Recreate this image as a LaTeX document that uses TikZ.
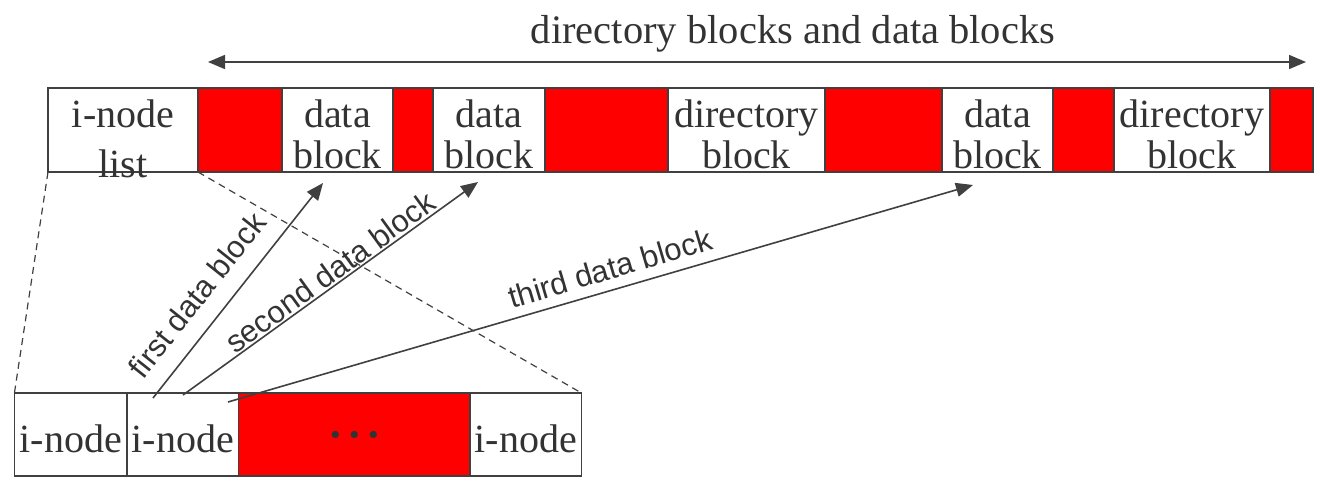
\documentclass[tikz,border=0pt]{standalone}
\usepackage{fontspec}
\setmainfont{Liberation Serif}
\setsansfont{Liberation Sans}
\usetikzlibrary{arrows.meta,calc}
\definecolor{ink}{HTML}{333333}
\definecolor{edge}{HTML}{404040}
\begin{document}
\begin{tikzpicture}[x=1pt,y=-1pt,
  cell/.style={draw=edge, line width=1.6pt, minimum height=84pt, inner sep=0pt, outer sep=0pt},
  wcell/.style={cell, fill=white},
  rcell/.style={cell, fill=red},
  serif/.style={font=\fontsize{40}{41}\selectfont, text=ink, align=center, inner sep=0pt},
  sans/.style={font=\sffamily\fontsize{31}{33}\selectfont, text=ink, inner sep=0pt},
  ptr/.style={draw=edge, line width=1.6pt, -{Triangle[length=17pt,width=14pt]}},
  span/.style={draw=edge, line width=1.6pt, {Triangle[length=17pt,width=14pt]}-{Triangle[length=17pt,width=14pt]}},
  zoomline/.style={draw=edge, line width=1.2pt, dash pattern=on 7pt off 5pt}]
\useasboundingbox (0,0) rectangle (1333,487);

% top bar
\node[wcell, minimum width=150pt] (inl) at (123,130) {};
\node[rcell, minimum width=84pt]  (r1)  at (240,130) {};
\node[wcell, minimum width=111pt] (d1)  at (337.5,130) {};
\node[rcell, minimum width=40pt]  (r2)  at (413,130) {};
\node[wcell, minimum width=112pt] (d2)  at (489,130) {};
\node[rcell, minimum width=123pt] (r3)  at (606.5,130) {};
\node[wcell, minimum width=157pt] (dir1) at (746.5,130) {};
\node[rcell, minimum width=117pt] (r4)  at (883.5,130) {};
\node[wcell, minimum width=111pt] (d3)  at (997.5,130) {};
\node[rcell, minimum width=61pt]  (r5)  at (1083.5,130) {};
\node[wcell, minimum width=156pt] (dir2) at (1192,130) {};
\node[rcell, minimum width=43pt]  (r6)  at (1291.5,130) {};

\node[serif, font=\fontsize{40}{50}\selectfont] (tinl) at ([yshift=-8.4pt]inl.center) {i-node\\list};
\node[serif] (td1) at ([yshift=-3.9pt]d1.center) {data\\block};
\node[serif] (td2) at ([yshift=-3.9pt]d2.center) {data\\block};
\node[serif] (tdir1) at ([yshift=-3.9pt]dir1.center) {directory\\block};
\node[serif] (td3) at ([yshift=-3.9pt]d3.center) {data\\block};
\node[serif] (tdir2) at ([yshift=-3.9pt]dir2.center) {directory\\block};

% span arrow
\coordinate (la) at (208,62);
\coordinate (ra) at (1306,62);
\draw[span] (la) -- (ra);
\node[serif, font=\fontsize{40.5}{42}\selectfont, anchor=base] (spanlbl) at (793,44) {directory blocks and data blocks};

% bottom bar
\draw[zoomline] (inl.south west) -- (14.5,392.5) coordinate (zl2);
\node[wcell, minimum height=83pt, minimum width=112.5pt, serif, text height=35pt, text depth=0pt] (b1) at (70.75,434.5) {i-node};
\node[wcell, minimum height=83pt, minimum width=111.5pt, serif, text height=35pt, text depth=0pt] (b2) at (182.75,434.5) {i-node};
\node[rcell, minimum height=83pt, minimum width=231.5pt] (b3) at (354.25,434.5) {};
\node[wcell, minimum height=83pt, minimum width=111.5pt, serif, text height=35pt, text depth=0pt] (b4) at (525.75,434.5) {i-node};
\node[font=\fontsize{44}{46}\selectfont\bfseries, text=ink, anchor=base, inner sep=0pt] (dots) at (355,449) {·\hspace{4pt}·\hspace{4pt}·};
\draw[zoomline] (inl.south east) -- (b4.north east);

% pointers
\coordinate (s1) at (153,398);
\coordinate (t1) at (323,183);
\coordinate (s2) at (183,395);
\coordinate (t2) at (478,182);
\coordinate (s3) at (228,402);
\coordinate (t3) at (973,185);
\draw[ptr] (s1) -- (t1);
\draw[ptr] (s2) -- (t2);
\draw[ptr] (s3) -- (t3);
\node[sans, rotate=51.5] (l1) at (197,295) {first data block};
\node[sans, rotate=36] (l2) at (330,272) {second data block};
\node[sans, rotate=16.5] (l3) at (610,268) {third data block};
\end{tikzpicture}
\end{document}
